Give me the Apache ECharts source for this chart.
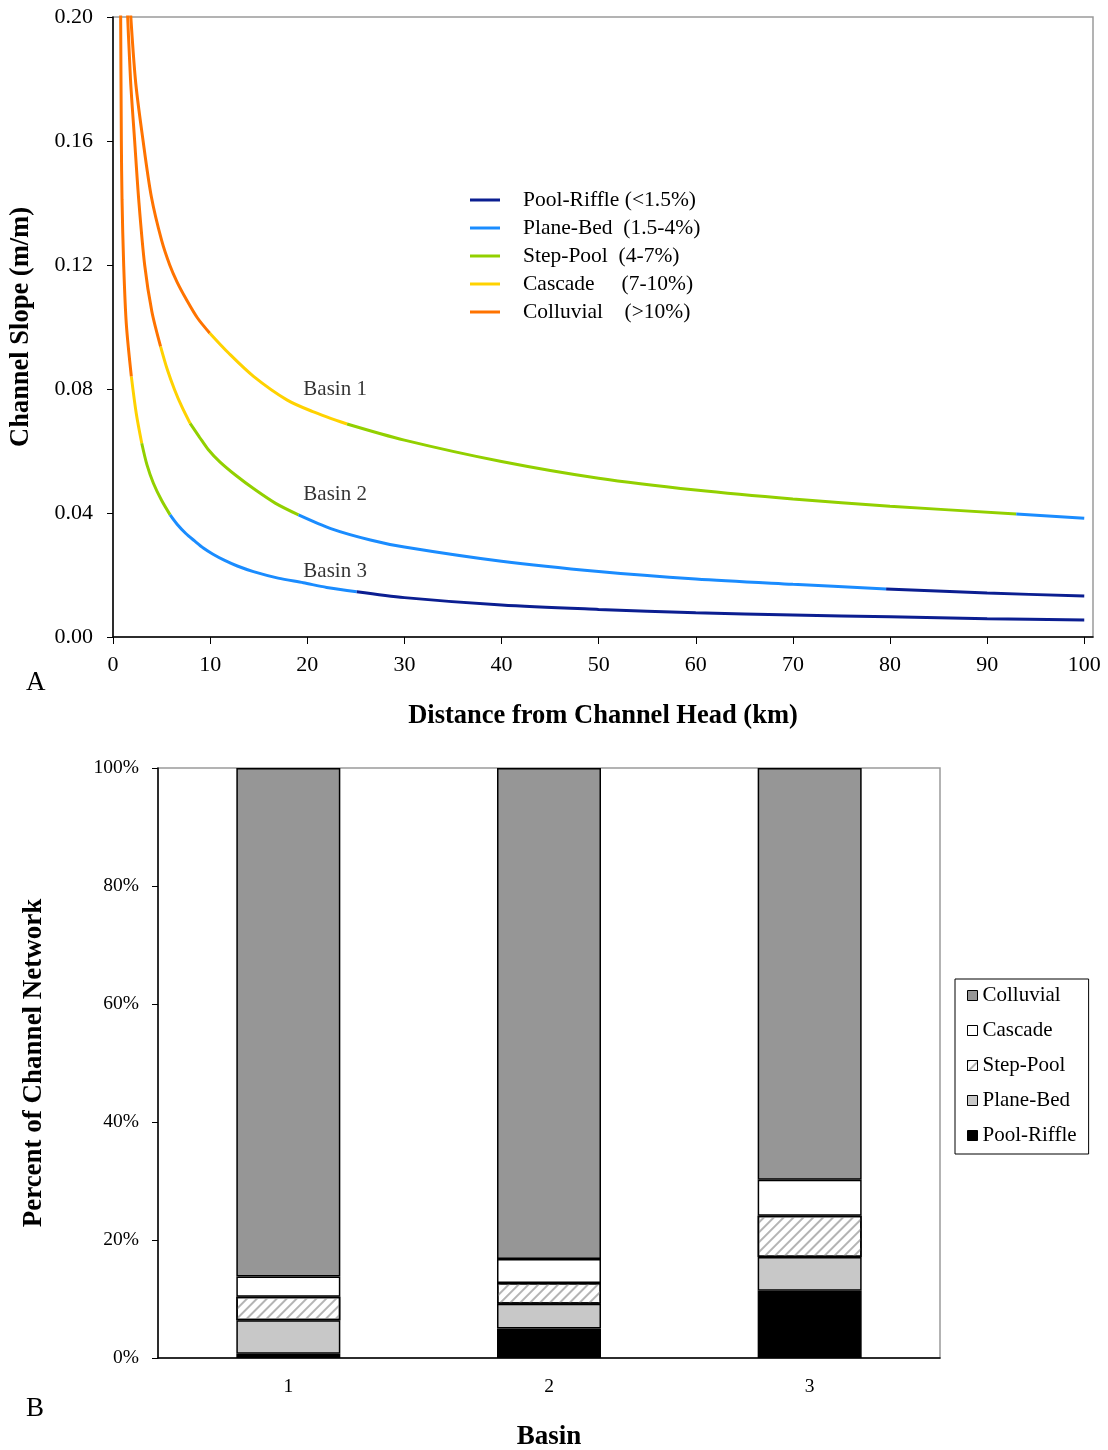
<!DOCTYPE html>
<html>
<head>
<meta charset="utf-8">
<script src="https://cdn.jsdelivr.net/npm/echarts@6/dist/echarts.min.js"></script>
<style>
html, body { margin: 0; padding: 0; background: #fff; }
#chart { width: 1108px; height: 1450px; }
</style>
</head>
<body>
<div id="chart"></div>
<script>
// --- panel A : slope vs distance, coloured by channel type ---
var classNames = ['Pool-Riffle (<1.5%)', 'Plane-Bed  (1.5-4%)', 'Step-Pool  (4-7%)', 'Cascade     (7-10%)', 'Colluvial    (>10%)'];
var classColors = ['#0b1e91', '#1a8cff', '#92d000', '#ffd200', '#ff7300'];

var basin1 = [[1.6, 0.212], [2.3, 0.18], [3.1, 0.16], [3.95, 0.142], [5.0, 0.128], [5.84, 0.12], [6.6, 0.1145],
  [7.5, 0.1092], [8.7, 0.1029], [9.97, 0.098], [11.9, 0.0916], [14.5, 0.084], [17.9, 0.0765], [20.5, 0.0728],
  [24.1, 0.0687], [30, 0.0635], [40, 0.0566], [50, 0.0512], [60, 0.0474], [70, 0.0445], [80, 0.0422],
  [93, 0.0397], [100, 0.0383]];
var basin1Classes = [4, 3, 2, 1];
var basin1Breaks = [9.97, 24.1, 93];

var basin2 = [[1.35, 0.212], [1.8, 0.18], [2.23, 0.16], [2.65, 0.141], [3.26, 0.12], [4.0, 0.105], [4.9, 0.0937],
  [5.6, 0.0862], [6.35, 0.0797], [7.1, 0.0742], [7.94, 0.0689], [8.9, 0.0645], [9.8, 0.0605], [11.0, 0.0565],
  [12.7, 0.052], [14.5, 0.0478], [16.7, 0.0432], [19.1, 0.0394], [22.5, 0.0349], [26.5, 0.0313], [30, 0.029],
  [40, 0.0244], [50, 0.0211], [60, 0.0187], [70, 0.017], [79.6, 0.0155], [90, 0.0142], [100, 0.0132]];
var basin2Classes = [4, 3, 2, 1, 0];
var basin2Breaks = [4.9, 7.94, 19.1, 79.6];

var basin3 = [[0.77, 0.212], [0.86, 0.16], [0.93, 0.141], [1.1, 0.12], [1.37, 0.101], [1.89, 0.084], [2.4, 0.072],
  [2.96, 0.0625], [3.5, 0.0555], [4.16, 0.0496], [5.0, 0.0441], [5.88, 0.0394], [6.6, 0.0364], [7.5, 0.0334],
  [8.4, 0.031], [9.3, 0.0287], [10.3, 0.0267], [11.5, 0.0247], [12.8, 0.0229], [14.46, 0.0211], [17, 0.019],
  [19.6, 0.0175], [22, 0.016], [25.1, 0.0146], [30, 0.0127], [40, 0.0103], [50, 0.0089], [60, 0.0078],
  [70, 0.0071], [80, 0.0065], [90, 0.0059], [100, 0.0055]];
var basin3Classes = [4, 3, 2, 1, 0];
var basin3Breaks = [1.89, 2.96, 5.88, 25.1];

var basinNames = ['Basin 1', 'Basin 2', 'Basin 3'];
var basinLabelX = [19.6, 19.6, 19.6];
var basinLabelY = [0.080, 0.0461, 0.021];

var slopeTicks = [0, 10, 20, 30, 40, 50, 60, 70, 80, 90, 100];

// --- panel B : share of channel network ---
var basins = ['1', '2', '3'];
var poolRiffle = [0.7, 5.0, 11.4];
var planeBed = [5.7, 4.2, 5.7];
var stepPool = [4.0, 3.5, 7.0];
var cascade = [3.4, 4.1, 6.1];
var colluvial = [86.2, 83.2, 69.8];

var font = 'Liberation Serif';
var chart = echarts.init(document.getElementById('chart'));

function segments(points, classes, breaks) {
    var out = [];
    for (var i = 0; i < classes.length; i++) {
        var lo = i === 0 ? -Infinity : breaks[i - 1];
        var hi = i === breaks.length ? Infinity : breaks[i];
        var seg = points.filter(function (p) { return p[0] >= lo && p[0] <= hi; });
        out.push({
            type: 'line',
            name: classNames[classes[i]],
            xAxisIndex: 0,
            yAxisIndex: 0,
            data: seg,
            symbol: 'none',
            smooth: 0.3,
            lineStyle: { color: classColors[classes[i]], width: 3 },
            itemStyle: { color: classColors[classes[i]] },
            emphasis: { disabled: true }
        });
    }
    return out;
}

var series = [].concat(
    segments(basin1, basin1Classes, basin1Breaks),
    segments(basin2, basin2Classes, basin2Breaks),
    segments(basin3, basin3Classes, basin3Breaks)
);

series.push({
    type: 'scatter',
    name: 'labels',
    xAxisIndex: 0,
    yAxisIndex: 0,
    symbolSize: 0,
    data: basinNames.map(function (n, i) { return [basinLabelX[i], basinLabelY[i], n]; }),
    label: {
        show: true,
        position: 'right',
        distance: 0,
        formatter: function (p) { return p.value[2]; },
        fontFamily: font,
        fontSize: 21,
        color: '#000'
    }
});

function bar(name, data, color, decal) {
    var s = {
        type: 'bar',
        name: name,
        xAxisIndex: 1,
        yAxisIndex: 1,
        stack: 'net',
        data: data,
        barWidth: 104,
        itemStyle: { color: color, borderColor: '#000', borderWidth: 1.5 },
        emphasis: { disabled: true }
    };
    if (decal) s.itemStyle.decal = decal;
    return s;
}

series.push(bar('Pool-Riffle', poolRiffle, '#000000'));
series.push(bar('Plane-Bed', planeBed, '#c8c8c8'));
series.push(bar('Step-Pool', stepPool, '#ffffff', {
    symbol: 'rect',
    dashArrayX: [1, 0],
    dashArrayY: [2, 5],
    rotation: -Math.PI / 4,
    color: '#b4b4b4'
}));
series.push(bar('Cascade', cascade, '#ffffff'));
series.push(bar('Colluvial', colluvial, '#969696'));

var axisTextA = { fontFamily: font, fontSize: 22, color: '#000' };
var axisTextB = { fontFamily: font, fontSize: 19.5, color: '#000' };
var nameTextA = { fontFamily: font, fontSize: 26.5, fontWeight: 'bold', color: '#000' };
var nameTextB = { fontFamily: font, fontSize: 27, fontWeight: 'bold', color: '#000' };

chart.setOption({
    animation: false,
    backgroundColor: '#fff',
    textStyle: { fontFamily: font },
    grid: [
        { left: 113, top: 17, width: 980, height: 620, outerBoundsMode: 'none', show: true, borderColor: '#9a9a9a', borderWidth: 1.5 },
        { left: 158, top: 768, width: 782, height: 590, outerBoundsMode: 'none', show: true, borderColor: '#9a9a9a', borderWidth: 1.5 }
    ],
    xAxis: [
        {
            gridIndex: 0, type: 'value', min: 0, max: 100.9,
            name: 'Distance from Channel Head (km)', nameLocation: 'middle', nameGap: 66,
            nameTextStyle: nameTextA,
            axisLine: { lineStyle: { color: '#000', width: 1.5 } },
            axisTick: { customValues: slopeTicks, length: 7, lineStyle: { color: '#000' } },
            axisLabel: { customValues: slopeTicks, margin: 17, textStyle: axisTextA },
            splitLine: { show: false }
        },
        {
            gridIndex: 1, type: 'category', data: basins,
            name: 'Basin', nameLocation: 'middle', nameGap: 66,
            nameTextStyle: nameTextB,
            axisLine: { lineStyle: { color: '#000', width: 1.5 } },
            axisTick: { length: 7, lineStyle: { color: '#000' } },
            axisLabel: { margin: 19, textStyle: axisTextB }
        }
    ],
    yAxis: [
        {
            gridIndex: 0, type: 'value', min: 0, max: 0.2, interval: 0.04,
            name: 'Channel Slope (m/m)', nameLocation: 'middle', nameGap: 78,
            nameTextStyle: nameTextA,
            axisLine: { show: true, lineStyle: { color: '#000', width: 1.5 } },
            axisTick: { show: true, length: 6, lineStyle: { color: '#000' } },
            axisLabel: { margin: 20, formatter: function (v) { return v.toFixed(2); }, textStyle: axisTextA },
            splitLine: { show: false }
        },
        {
            gridIndex: 1, type: 'value', min: 0, max: 100, interval: 20,
            name: 'Percent of Channel Network', nameLocation: 'middle', nameGap: 110,
            nameTextStyle: nameTextB,
            axisLine: { show: true, lineStyle: { color: '#000', width: 1.5 } },
            axisTick: { show: true, length: 6, lineStyle: { color: '#000' } },
            axisLabel: { margin: 19, formatter: '{value}%', textStyle: axisTextB },
            splitLine: { show: false }
        }
    ],
    legend: [
        {
            data: classNames,
            orient: 'vertical',
            left: 470,
            top: 189,
            padding: 0,
            icon: 'rect',
            itemWidth: 30,
            itemHeight: 3,
            itemGap: 6,
            selectedMode: false,
            textStyle: { fontFamily: font, fontSize: 21.5, color: '#000', lineHeight: 20, padding: [0, 0, 0, 18] }
        },
        {
            data: ['Colluvial', 'Cascade', 'Step-Pool', 'Plane-Bed', 'Pool-Riffle'],
            orient: 'vertical',
            left: 955,
            top: 979,
            padding: [6, 12, 8, 12],
            itemWidth: 10,
            itemHeight: 10,
            itemGap: 14,
            icon: 'rect',
            borderColor: '#000',
            borderWidth: 1,
            backgroundColor: '#fff',
            selectedMode: false,
            itemStyle: { borderWidth: 1 },
            textStyle: { fontFamily: font, fontSize: 21, color: '#000', lineHeight: 20 }
        }
    ],
    graphic: [
        { type: 'text', left: 26, top: 669, style: { text: 'A', fontFamily: font, fontSize: 27, fill: '#000' } },
        { type: 'text', left: 26, top: 1395, style: { text: 'B', fontFamily: font, fontSize: 27, fill: '#000' } }
    ],
    series: series
});
</script>
</body>
</html>
